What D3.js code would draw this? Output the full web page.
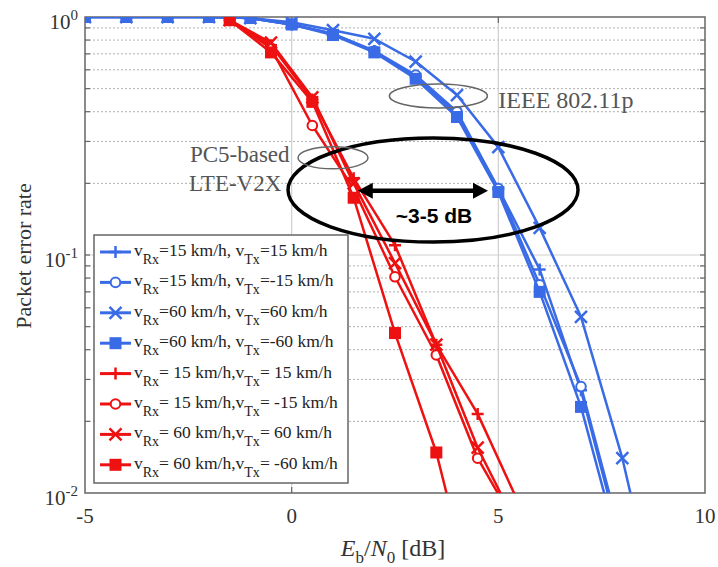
<!DOCTYPE html>
<html>
<head>
<meta charset="utf-8">
<script src="https://cdn.jsdelivr.net/npm/d3@7"></script>
<style>
  body { margin: 0; background: #fff; }
  text { font-family: "Liberation Serif", "DejaVu Serif", serif; }
</style>
</head>
<body>
<div id="per_chart"></div>
<script>
// Eb/N0 points (dB) for each technology
const ebnoIEEE = [-5, -4, -3, -2, -1, 0, 1, 2, 3, 4, 5, 6, 7, 8, 9];
const ebnoLTE = [-1.5, -0.5, 0.5, 1.5, 2.5, 3.5, 4.5, 5.5];

// packet error rate, IEEE 802.11p (blue)
const perIEEE_15_15  = [1, 1, 1, 1, 0.99, 0.93, 0.85, 0.72, 0.56, 0.39, 0.19, 0.087, 0.027, 0.0058, null];
const perIEEE_15_m15 = [1, 1, 1, 1, 0.99, 0.93, 0.85, 0.72, 0.57, 0.40, 0.19, 0.075, 0.028, 0.0062, null];
const perIEEE_60_60  = [1, 1, 1, 1, 0.99, 0.95, 0.88, 0.81, 0.65, 0.47, 0.284, 0.13, 0.055, 0.014, 0.0025];
const perIEEE_60_m60 = [1, 1, 1, 1, 0.99, 0.93, 0.84, 0.71, 0.55, 0.38, 0.184, 0.07, 0.023, 0.0052, null];

// packet error rate, PC5-based LTE-V2X (red)
const perLTE_15_15  = [0.97, 0.76, 0.45, 0.21, 0.11, 0.042, 0.0215, 0.009];
const perLTE_15_m15 = [0.97, 0.74, 0.35, 0.19, 0.081, 0.038, 0.014, 0.007];
const perLTE_60_60  = [0.97, 0.78, 0.46, 0.20, 0.0925, 0.042, 0.0155, 0.007];
const perLTE_60_m60 = [0.97, 0.71, 0.44, 0.174, 0.047, 0.0148, 0.003, null];

// legend text pieces
const legendRx = ["=15 km/h, v", "=15 km/h, v", "=60 km/h, v", "=60 km/h, v",
                  "= 15 km/h,v", "= 15 km/h,v", "= 60 km/h,v", "= 60 km/h,v"];
const legendTx = ["=15 km/h", "=-15 km/h", "=60 km/h", "=-60 km/h",
                  "= 15 km/h", "= -15 km/h", "= 60 km/h", "= -60 km/h"];

const xTicks = [-5, 0, 5, 10];
const yTicks = [1, 0.1, 0.01];
const yTickExp = ["0", "-1", "-2"];

const blue = "#3a6be6", red = "#ee1111";

const series = [
  {xs: ebnoIEEE, ys: perIEEE_15_15,  color: blue, shape: "plus"},
  {xs: ebnoIEEE, ys: perIEEE_15_m15, color: blue, shape: "circle"},
  {xs: ebnoIEEE, ys: perIEEE_60_60,  color: blue, shape: "cross"},
  {xs: ebnoIEEE, ys: perIEEE_60_m60, color: blue, shape: "square"},
  {xs: ebnoLTE,  ys: perLTE_15_15,   color: red,  shape: "plus"},
  {xs: ebnoLTE,  ys: perLTE_15_m15,  color: red,  shape: "circle"},
  {xs: ebnoLTE,  ys: perLTE_60_60,   color: red,  shape: "cross"},
  {xs: ebnoLTE,  ys: perLTE_60_m60,  color: red,  shape: "square"}
];

const width = 718, height = 567;
const pl = 85, pr = 705, pt = 17, pb = 493;

const svg = d3.select("#per_chart").append("svg")
  .attr("width", width).attr("height", height);

const x = d3.scaleLinear().domain([-5, 10]).range([pl, pr]);
const y = d3.scaleLog().domain([0.01, 1]).range([pb, pt]);

svg.append("clipPath").attr("id", "plotclip")
  .append("rect").attr("x", pl).attr("y", pt).attr("width", pr - pl).attr("height", pb - pt);

// grid
const minor = [];
[0.01, 0.1].forEach(d => { for (let k = 2; k <= 9; k++) minor.push(d * k); });
svg.append("g").selectAll("line").data(minor).enter().append("line")
  .attr("x1", pl).attr("x2", pr)
  .attr("y1", d => y(d)).attr("y2", d => y(d))
  .attr("stroke", "#b0b0b0").attr("stroke-width", 1).attr("stroke-dasharray", "2,2");
svg.append("line")
  .attr("x1", pl).attr("x2", pr).attr("y1", y(0.1)).attr("y2", y(0.1))
  .attr("stroke", "#cfcfcf").attr("stroke-width", 1.2);
svg.append("g").selectAll("line").data([0, 5]).enter().append("line")
  .attr("x1", d => x(d)).attr("x2", d => x(d)).attr("y1", pt).attr("y2", pb)
  .attr("stroke", "#cfcfcf").attr("stroke-width", 1.2);

// frame and ticks
svg.append("rect").attr("x", pl).attr("y", pt).attr("width", pr - pl).attr("height", pb - pt)
  .attr("fill", "none").attr("stroke", "#666").attr("stroke-width", 1.5);
const allY = minor.concat([0.1]);
const tickG = svg.append("g").attr("stroke", "#666").attr("stroke-width", 1.2);
allY.forEach(d => {
  tickG.append("line").attr("x1", pl).attr("x2", pl + 5).attr("y1", y(d)).attr("y2", y(d));
  tickG.append("line").attr("x1", pr - 5).attr("x2", pr).attr("y1", y(d)).attr("y2", y(d));
});
[0, 5].forEach(d => {
  tickG.append("line").attr("x1", x(d)).attr("x2", x(d)).attr("y1", pb).attr("y2", pb - 6);
  tickG.append("line").attr("x1", x(d)).attr("x2", x(d)).attr("y1", pt).attr("y2", pt + 6);
});

// tick labels
svg.append("g").selectAll("text").data(xTicks).enter().append("text")
  .attr("x", d => x(d)).attr("y", pb + 30)
  .attr("text-anchor", "middle").attr("font-size", 21).attr("fill", "#333")
  .text(d => d);

const yl = svg.append("g").selectAll("text").data(yTicks).enter().append("text")
  .attr("x", pl - 7).attr("y", d => y(d) + 12)
  .attr("text-anchor", "end").attr("font-size", 21).attr("fill", "#333");
yl.append("tspan").text("10");
yl.append("tspan").attr("dy", -9).attr("font-size", 15).text((d, i) => yTickExp[i]);

// axis titles
const xt = svg.append("text").attr("x", 393).attr("y", 556)
  .attr("text-anchor", "middle").attr("font-size", 24).attr("fill", "#333");
xt.append("tspan").attr("font-style", "italic").text("E");
xt.append("tspan").attr("font-size", 17).attr("dy", 7).text("b");
xt.append("tspan").attr("dy", -7).text("/");
xt.append("tspan").attr("font-style", "italic").text("N");
xt.append("tspan").attr("font-size", 17).attr("dy", 7).text("0");
xt.append("tspan").attr("dy", -7).text(" [dB]");

svg.append("text")
  .attr("transform", `translate(31, ${(pt + pb) / 2 + 1}) rotate(-90)`)
  .attr("text-anchor", "middle").attr("font-size", 22).attr("fill", "#333")
  .text("Packet error rate");

// markers
function drawMarker(g, shape, cx, cy, color, s) {
  if (shape === "plus") {
    g.append("path").attr("d", `M${cx - s},${cy}H${cx + s}M${cx},${cy - s}V${cy + s}`)
      .attr("stroke", color).attr("stroke-width", 2.5).attr("fill", "none");
  } else if (shape === "cross") {
    g.append("path").attr("d", `M${cx - s},${cy - s}L${cx + s},${cy + s}M${cx - s},${cy + s}L${cx + s},${cy - s}`)
      .attr("stroke", color).attr("stroke-width", 2.5).attr("fill", "none");
  } else if (shape === "circle") {
    g.append("circle").attr("cx", cx).attr("cy", cy).attr("r", s * 0.8)
      .attr("stroke", color).attr("stroke-width", 2).attr("fill", "#fff");
  } else {
    g.append("rect").attr("x", cx - s).attr("y", cy - s).attr("width", 2 * s).attr("height", 2 * s)
      .attr("fill", color);
  }
}

// curves
const plot = svg.append("g").attr("clip-path", "url(#plotclip)");
const line = d3.line().defined(d => d[1] != null).x(d => x(d[0])).y(d => y(d[1]));
series.forEach(s => {
  const pts = s.xs.map((v, i) => [v, s.ys[i]]);
  plot.append("path").datum(pts).attr("d", line)
    .attr("fill", "none").attr("stroke", s.color).attr("stroke-width", 2.5)
    .attr("stroke-linejoin", "round");
  const mg = plot.append("g");
  pts.filter(p => p[1] != null && p[1] >= 0.01).forEach(p => {
    drawMarker(mg, s.shape, x(p[0]), y(p[1]), s.color, 6);
  });
});

// annotations
svg.append("ellipse").attr("cx", x(3.42)).attr("cy", y(0.1875)).attr("rx", 145).attr("ry", 52)
  .attr("fill", "none").attr("stroke", "#000").attr("stroke-width", 3.5);
svg.append("ellipse").attr("cx", x(3.55)).attr("cy", y(0.466)).attr("rx", 49).attr("ry", 12)
  .attr("fill", "none").attr("stroke", "#666").attr("stroke-width", 1.5);
svg.append("ellipse").attr("cx", x(1.0)).attr("cy", y(0.256)).attr("rx", 35).attr("ry", 11)
  .attr("fill", "none").attr("stroke", "#666").attr("stroke-width", 1.5);

svg.append("text").attr("x", x(5)).attr("y", y(0.45) + 8)
  .attr("font-size", 24).attr("fill", "#555").text("IEEE 802.11p");
svg.append("text").attr("x", x(-0.05)).attr("y", y(0.246))
  .attr("text-anchor", "end").attr("font-size", 23).attr("fill", "#555").text("PC5-based");
svg.append("text").attr("x", x(-0.25)).attr("y", y(0.246) + 29)
  .attr("text-anchor", "end").attr("font-size", 23).attr("fill", "#555").text("LTE-V2X");

// double arrow
const ay = y(0.186), ax1 = x(1.6), ax2 = x(4.75);
svg.append("line").attr("x1", ax1 + 10).attr("x2", ax2 - 10).attr("y1", ay).attr("y2", ay)
  .attr("stroke", "#000").attr("stroke-width", 4.5);
svg.append("path")
  .attr("d", `M${ax1},${ay}L${ax1 + 15},${ay - 8}L${ax1 + 15},${ay + 8}Z M${ax2},${ay}L${ax2 - 15},${ay - 8}L${ax2 - 15},${ay + 8}Z`)
  .attr("fill", "#000");
svg.append("text").attr("x", 434).attr("y", 223).attr("text-anchor", "middle")
  .style("font-family", "'Liberation Sans', Arial, sans-serif").attr("font-weight", "bold")
  .attr("font-size", 21).attr("fill", "#000").text("~3-5 dB");

// legend
const lg = svg.append("g");
lg.append("rect").attr("x", 94).attr("y", 235).attr("width", 254).attr("height", 248)
  .attr("fill", "#fff").attr("stroke", "#666").attr("stroke-width", 1.5);
series.forEach((s, i) => {
  const ly = 252 + i * 30.4;
  lg.append("line").attr("x1", 100).attr("x2", 131).attr("y1", ly).attr("y2", ly)
    .attr("stroke", s.color).attr("stroke-width", 3);
  drawMarker(lg, s.shape, 115.5, ly, s.color, 6);
  const t = lg.append("text").attr("x", 134).attr("y", ly + 4)
    .attr("font-size", 17.5).attr("fill", "#222");
  t.append("tspan").text("v");
  t.append("tspan").attr("dy", 8).attr("font-size", 14).text("Rx");
  t.append("tspan").attr("dy", -8).text(legendRx[i]);
  t.append("tspan").attr("dy", 8).attr("font-size", 14).text("Tx");
  t.append("tspan").attr("dy", -8).text(legendTx[i]);
});
</script>
</body>
</html>
